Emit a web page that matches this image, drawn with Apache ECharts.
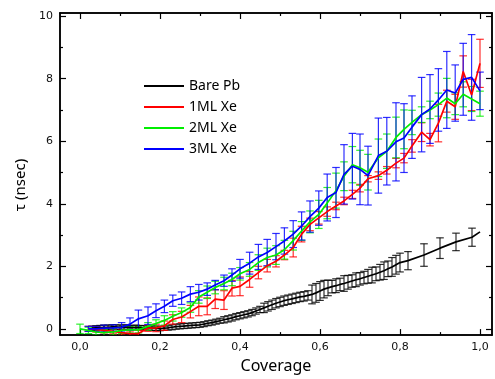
<!DOCTYPE html>
<html><head><meta charset="utf-8">
<script src="https://cdn.jsdelivr.net/npm/echarts@6/dist/echarts.min.js"></script>
<style>html,body{margin:0;padding:0;background:#fff}#c{width:495px;height:379px}</style>
</head><body><div id="c"></div>
<script>
// ---- data ----
const seriesNames = ['Bare Pb', '1ML Xe', '2ML Xe', '3ML Xe'];
const seriesColors = ['#000000', '#ff0000', '#00ee00', '#0000ff'];

const xBare = [0.03,0.04,0.05,0.06,0.07,0.08,0.09,0.10,0.11,0.12,0.13,0.14,0.15,0.16,0.17,0.18,0.19,0.20,0.21,0.22,
  0.23,0.24,0.25,0.26,0.27,0.28,0.29,0.30,0.31,0.32,0.33,0.34,0.35,0.36,0.37,0.38,0.39,0.40,0.41,0.42,
  0.43,0.44,0.45,0.46,0.47,0.48,0.49,0.50,0.51,0.52,0.53,0.54,0.55,0.56,0.57,0.58,0.59,0.60,0.61,0.62,
  0.63,0.64,0.65,0.66,0.67,0.68,0.69,0.70,0.71,0.72,0.73,0.74,0.75,0.76,0.77,0.78,0.79,0.80,
  0.82,0.86,0.90,0.94,0.98,1.00];
const yBare = [0.02,0.03,0.04,0.05,0.05,0.06,0.06,0.05,0.06,0.05,0.04,0.05,0.04,0.03,0.03,0.02,0.02,0.01,0.02,0.03,
  0.05,0.07,0.08,0.09,0.10,0.11,0.12,0.13,0.15,0.18,0.20,0.23,0.26,0.29,0.32,0.35,0.39,0.42,0.45,0.48,
  0.52,0.57,0.62,0.67,0.72,0.77,0.82,0.86,0.90,0.93,0.96,0.99,1.02,1.04,1.07,1.10,1.15,1.21,1.27,1.31,
  1.35,1.38,1.42,1.45,1.49,1.53,1.57,1.60,1.64,1.68,1.72,1.76,1.81,1.86,1.92,1.98,2.05,2.12,
  2.18,2.36,2.58,2.78,2.93,3.10];
const eBare = [0.07,0.07,0.07,0.07,0.07,0.07,0.07,0.07,0.07,0.07,0.07,0.07,0.07,0.07,0.07,0.07,0.07,0.07,0.07,0.07,
  0.08,0.08,0.08,0.08,0.08,0.08,0.08,0.08,0.08,0.08,0.08,0.08,0.08,0.10,0.10,0.10,0.10,0.10,0.10,0.10,
  0.10,0.10,0.10,0.15,0.15,0.15,0.15,0.15,0.15,0.15,0.15,0.15,0.15,0.15,0.15,0.30,0.30,0.30,0.28,0.25,
  0.20,0.22,0.20,0.25,0.22,0.20,0.22,0.20,0.20,0.22,0.25,0.22,0.25,0.28,0.25,0.30,0.30,0.30,
  0.29,0.36,0.33,0.28,0.29,0];

const xXe = [0.021,0.04,0.06,0.083,0.104,0.125,0.146,0.17,0.19,0.211,0.232,0.254,0.276,0.297,0.318,0.338,0.36,0.38,0.40,0.424,
  0.446,0.468,0.49,0.511,0.533,0.554,0.575,0.597,0.618,0.64,0.66,0.681,0.70,0.72,0.746,0.767,0.79,0.81,0.83,0.854,
  0.875,0.896,0.917,0.938,0.958,0.979,1.0];
const x2ML = [0.0,0.021,0.04,0.06,0.083,0.104,0.125,0.146,0.17,0.19,0.211,0.232,0.254,0.276,0.297,0.318,0.338,0.36,0.38,0.40,0.424,
  0.446,0.468,0.49,0.511,0.533,0.554,0.575,0.597,0.618,0.64,0.66,0.681,0.70,0.72,0.746,0.767,0.79,0.81,0.83,0.854,
  0.875,0.896,0.917,0.938,0.958,0.979,1.0];

const y1ML = [0.0,-0.02,-0.05,-0.08,-0.12,-0.15,-0.15,0.02,0.03,0.10,0.30,0.38,0.55,0.72,0.72,0.95,0.92,1.30,1.36,1.58,
  1.80,2.02,2.16,2.36,2.60,3.03,3.34,3.55,3.75,3.93,4.09,4.30,4.50,4.80,4.90,5.07,5.30,5.46,5.85,6.29,
  6.05,6.58,7.28,7.10,8.23,7.48,8.49];
const e1ML = [0.08,0.08,0.08,0.08,0.08,0.08,0.10,0.10,0.12,0.15,0.15,0.18,0.20,0.30,0.27,0.30,0.30,0.25,0.30,0.25,
  0.20,0.20,0.18,0.15,0.30,0.25,0.20,0.20,0.15,0.12,0.12,0.13,0.12,0.10,0.12,0.12,0.15,0.15,0.20,0.30,
  0.20,0.60,0.35,0.40,0.50,0.50,0.77];

const y2ML = [0.0,-0.05,-0.10,-0.12,-0.10,-0.05,-0.03,-0.03,0.08,0.17,0.27,0.40,0.52,0.68,1.02,1.17,1.32,1.45,1.58,1.76,1.90,
  2.12,2.28,2.36,2.53,2.82,3.13,3.42,3.66,4.02,4.42,4.88,5.25,5.15,5.01,5.47,5.68,6.12,6.38,6.60,6.85,
  7.00,7.17,7.38,7.20,7.50,7.35,7.20];
const e2ML = [0.15,0.10,0.10,0.10,0.10,0.10,0.10,0.10,0.12,0.12,0.15,0.15,0.15,0.15,0.20,0.20,0.20,0.20,0.20,0.20,0.22,
  0.25,0.30,0.30,0.30,0.30,0.30,0.35,0.45,0.50,0.56,0.46,0.58,0.56,0.57,0.60,0.55,0.65,0.62,0.39,0.25,
  0.28,0.37,0.63,0.35,0.40,0.40,0.40];

const y3ML = [0.0,0.0,0.02,0.03,0.05,0.15,0.32,0.42,0.58,0.72,0.90,0.98,1.11,1.17,1.27,1.40,1.54,1.72,1.92,2.10,
  2.30,2.44,2.63,2.81,3.03,3.29,3.59,3.86,4.20,4.36,4.94,5.20,5.10,4.90,5.54,5.68,5.98,6.10,6.45,6.85,
  7.03,7.32,7.64,7.54,7.98,8.04,7.61];
const e3ML = [0.08,0.08,0.10,0.10,0.15,0.20,0.28,0.28,0.22,0.20,0.18,0.20,0.24,0.25,0.20,0.15,0.18,0.20,0.30,0.35,
  0.40,0.42,0.42,0.42,0.43,0.45,0.50,0.55,0.75,0.80,0.95,1.05,1.13,0.94,1.20,1.08,1.25,1.10,1.00,1.19,
  1.10,1.00,1.23,0.90,1.15,1.37,0.60];

const xMajorTicks = [0, 0.2, 0.4, 0.6, 0.8, 1.0];
const xMinorTicks = [0.1, 0.3, 0.5, 0.7, 0.9];
const yMajorTicks = [0, 2, 4, 6, 8, 10];
const yMinorTicks = [1, 3, 5, 7, 9];

// ---- chart ----
const XMIN = -0.05, XMAX = 1.03, YMIN = -0.2, YMAX = 10.1;
const chart = echarts.init(document.getElementById('c'));
const lineAx = { show: true, onZero: false, lineStyle: { color: '#000', width: 1.5 } };

function xAxisDef(position, ticks, len, labels) {
  return {
    type: 'value', position: position, min: XMIN, max: XMAX, gridIndex: 0,
    axisLine: lineAx, splitLine: { show: false },
    axisTick: { show: true, inside: true, length: len, customValues: ticks, lineStyle: { color: '#000', width: 1.2 } },
    axisLabel: labels ? {
      show: true, customValues: ticks, margin: 7, color: '#111', fontSize: 11, fontFamily: 'DejaVu Sans',
      formatter: v => v.toFixed(1).replace('.', ',')
    } : { show: false }
  };
}
function yAxisDef(position, ticks, len, labels) {
  return {
    type: 'value', position: position, min: YMIN, max: YMAX, gridIndex: 0,
    axisLine: lineAx, splitLine: { show: false },
    axisTick: { show: true, inside: true, length: len, customValues: ticks, lineStyle: { color: '#000', width: 1.2 } },
    axisLabel: labels ? {
      show: true, customValues: ticks, margin: 7, color: '#111', fontSize: 11, fontFamily: 'DejaVu Sans'
    } : { show: false }
  };
}

const xAxes = [
  Object.assign(xAxisDef('bottom', xMajorTicks, 6, true), {
    name: 'Coverage', nameLocation: 'middle', nameGap: 20,
    nameTextStyle: { fontSize: 16, fontFamily: 'Noto Sans', color: '#000' }
  }),
  xAxisDef('bottom', xMinorTicks, 3, false),
  xAxisDef('top', xMajorTicks, 6, false),
  xAxisDef('top', xMinorTicks, 3, false)
];
const yAxes = [
  Object.assign(yAxisDef('left', yMajorTicks, 6, true), {
    name: 'τ (nsec)', nameLocation: 'middle', nameGap: 25, nameRotate: 90,
    nameTextStyle: { fontSize: 15, fontFamily: 'Noto Sans', color: '#000', padding: [0, 22, 0, 0] }
  }),
  yAxisDef('left', yMinorTicks, 3, false),
  yAxisDef('right', yMajorTicks, 6, false),
  yAxisDef('right', yMinorTicks, 3, false)
];

function makeErr(color) {
  return function (params, api) {
    const x = api.value(0), lo = api.value(1), hi = api.value(2);
    if (hi === lo) return null;
    const t = api.coord([x, hi]), b = api.coord([x, lo]);
    const cw = 3.8;
    const st = () => ({ stroke: color, lineWidth: 1.2, opacity: 0.82 });
    return { type: 'group', children: [
      { type: 'line', shape: { x1: t[0], y1: t[1], x2: b[0], y2: b[1] }, style: st() },
      { type: 'line', shape: { x1: t[0] - cw, y1: t[1], x2: t[0] + cw, y2: t[1] }, style: st() },
      { type: 'line', shape: { x1: b[0] - cw, y1: b[1], x2: b[0] + cw, y2: b[1] }, style: st() }
    ]};
  };
}

const sets = [
  [xBare, yBare, eBare],
  [xXe, y1ML, e1ML],
  [x2ML, y2ML, e2ML],
  [xXe, y3ML, e3ML]
];
const series = [];
sets.forEach((s, k) => {
  const [xs, ys, es] = s;
  series.push({
    type: 'custom', name: seriesNames[k] + ' err', renderItem: makeErr(seriesColors[k]),
    xAxisIndex: 0, yAxisIndex: 0, clip: true, silent: true,
    encode: { x: 0, y: [1, 2] },
    data: xs.map((x, i) => [x, ys[i] - es[i], ys[i] + es[i]])
  });
  series.push({
    type: 'line', name: seriesNames[k], xAxisIndex: 0, yAxisIndex: 0,
    symbol: 'none', showSymbol: false, clip: true,
    lineStyle: { color: seriesColors[k], width: 1.7 }, itemStyle: { color: seriesColors[k] },
    data: xs.map((x, i) => [x, ys[i]])
  });
});

chart.setOption({
  animation: false,
  backgroundColor: '#fff',
  grid: { left: 60, right: 3, top: 13, bottom: 42.6, containLabel: false },
  legend: {
    data: seriesNames, orient: 'vertical', left: 143, top: 79, padding: 0,
    itemWidth: 40, itemHeight: 14, itemGap: 7,
    itemStyle: { opacity: 0 },
    lineStyle: { width: 2 },
    textStyle: { fontSize: 14, fontFamily: 'Noto Sans', color: '#000' }
  },
  xAxis: xAxes,
  yAxis: yAxes,
  series: series
});
</script>
</body></html>
